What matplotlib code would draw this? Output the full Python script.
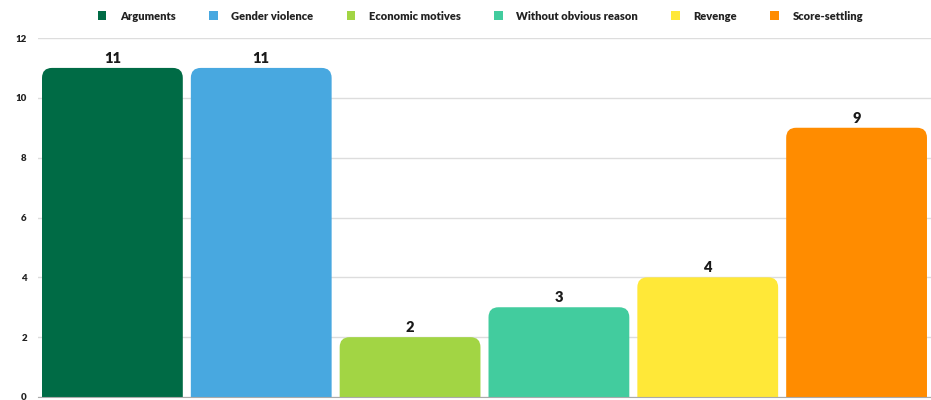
import matplotlib.pyplot as plt
from matplotlib.patches import FancyBboxPatch, Patch

categories = ["Arguments", "Gender violence", "Economic motives",
              "Without obvious reason", "Revenge", "Score-settling"]
values = [11, 11, 2, 3, 4, 9]
colors = ["#006B45", "#48A8E0", "#A2D544", "#42CC9E", "#FFE838", "#FF8C00"]
yticks = [0, 2, 4, 6, 8, 10, 12]

plt.rcParams['font.family'] = ['Lato', 'DejaVu Sans']

fig = plt.figure(figsize=(9.31, 4), dpi=100)
ax = fig.add_axes([0.0408, 0.0075, 0.9592, 0.8975])

width = 0.946
# rounded top corners: radius ~10px in both directions
rx = 10 / 149
ry = 10 / 29.9
for i, (v, c) in enumerate(zip(values, colors)):
    box = FancyBboxPatch((i - width / 2, -1), width, v + 1,
                         boxstyle=f"round,pad=0,rounding_size={rx}",
                         mutation_aspect=ry / rx,
                         facecolor=c, edgecolor="none", zorder=3)
    ax.add_patch(box)
    ax.text(i, v + 0.1, str(v), ha="center", va="bottom",
            fontsize=10.5, fontweight="heavy", color="#1a1a1a", zorder=4)

ax.set_xlim(-0.5, 5.5)
ax.set_ylim(0, 12)
ax.set_yticks(yticks)
ax.set_yticklabels([str(t) for t in yticks], fontsize=7, fontweight="heavy", color="#222222")
ax.set_xticks([])
ax.grid(axis="y", color="#dddddd", linewidth=1, zorder=0)
for s in ["top", "right", "left"]:
    ax.spines[s].set_visible(False)
ax.spines["bottom"].set_color("#aaaaaa")
ax.spines["bottom"].set_zorder(5)
ax.tick_params(axis="y", length=0, pad=8)

handles = [Patch(facecolor=c, edgecolor="none") for c in colors]
fig.legend(handles, categories, loc="center", bbox_to_anchor=(0.516, 0.96),
           ncol=6, frameon=False, handlelength=0.8, handleheight=0.8,
           handletextpad=1.2, columnspacing=3.0,
           prop={"size": 8, "weight": "heavy"}, labelcolor="#222222")

fig.savefig("out.png", dpi=100)
